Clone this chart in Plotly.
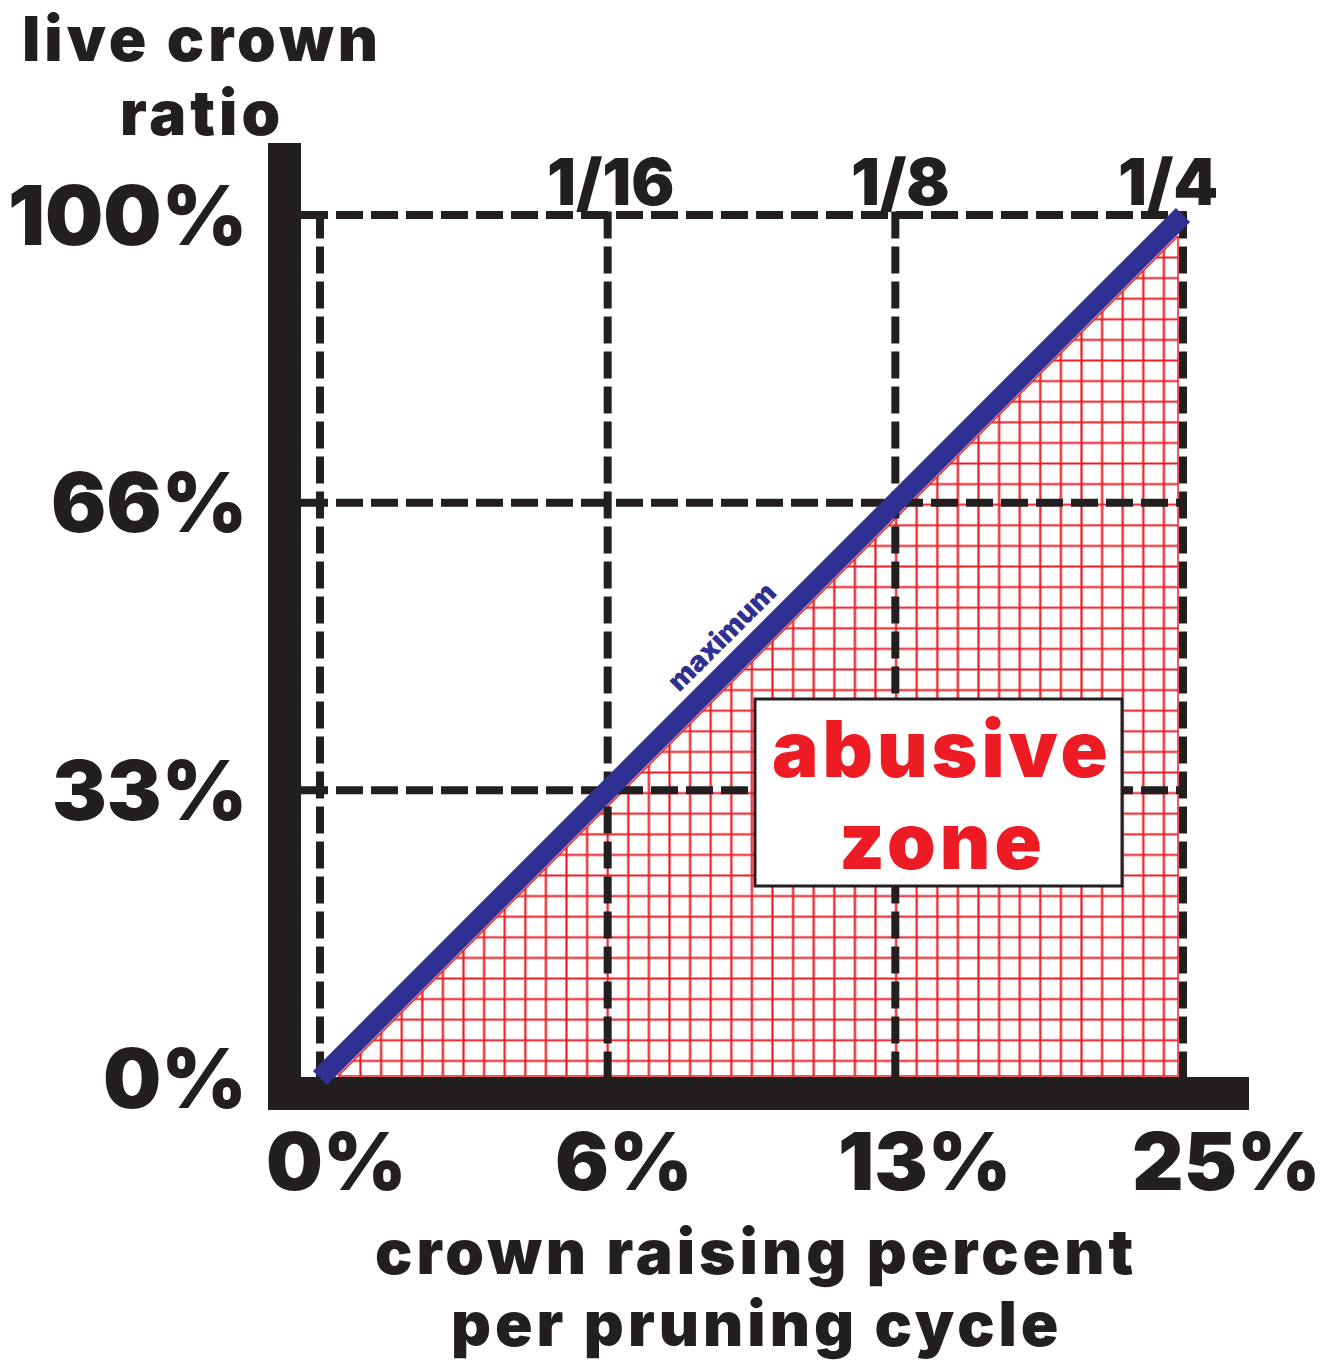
import plotly.graph_objects as go

# ---------------- data ----------------
x_tick_labels = ["0%", "6%", "13%", "25%"]        # crown raising percent per pruning cycle
x_fraction_labels = ["", "1/16", "1/8", "1/4"]     # same steps as fractions
y_tick_labels = ["0%", "33%", "66%", "100%"]       # live crown ratio
tick_index = [0, 1, 2, 3]                          # evenly spaced steps on both axes
max_line_x = [0, 3]                                # "maximum" line: 0%/0%  ->  25%/100%
max_line_y = [0, 3]
y_axis_title = ["live crown", "ratio"]
x_axis_title = ["crown raising percent", "per pruning cycle"]
zone_label = ["abusive", "zone"]
line_label = "maximum"

# ---------------- geometry / style ----------------
W, H = 1335, 1360
X0_PX, Y0_PX = 320, 1078          # pixel of step (0, 0)
UNIT = 863 / 3                    # pixels per step


def dx(px):
    return (px - X0_PX) / UNIT


def dy(py):
    return (Y0_PX - py) / UNIT


BLACK = "#231F20"
RED = "#ED1C24"
BLUE = "#2E3192"
FONT = "Inter"

fig = go.Figure()

# abusive zone (below the maximum line), hatched red grid
last = max_line_x[-1]
gap = 16 / UNIT
bot = 2 / UNIT
right = last - 5 / UNIT
zone_x = [bot + gap, right, right, bot + gap]
zone_y = [bot, bot, right - gap, bot]
fig.add_trace(go.Scatter(
    x=zone_x, y=zone_y, mode="lines", fill="toself",
    line=dict(color=RED, width=1.5), fillcolor="white",
    fillpattern=dict(shape="+", fgcolor=RED, fgopacity=1, bgcolor="white",
                     size=20.6, solidity=0.2, fillmode="replace"),
    hoverinfo="skip", showlegend=False))

# dashed guide lines
dash = "27px,8px"
top = tick_index[-1] + 3.5 / UNIT
for t in tick_index:
    fig.add_trace(go.Scatter(x=[t, t], y=[top, 0], mode="lines",
                             line=dict(color=BLACK, width=8, dash=dash),
                             hoverinfo="skip", showlegend=False))
for t in tick_index[1:]:
    fig.add_trace(go.Scatter(x=[dx(301), top], y=[t, t], mode="lines",
                             line=dict(color=BLACK, width=8, dash=dash),
                             hoverinfo="skip", showlegend=False))

# maximum line
fig.add_trace(go.Scatter(x=max_line_x, y=max_line_y, mode="lines",
                         line=dict(color=BLUE, width=20),
                         hoverinfo="skip", showlegend=False))

shapes = [
    dict(type="rect", xref="x", yref="y", x0=dx(268), x1=dx(301), y0=dy(1110), y1=dy(143),
         fillcolor=BLACK, line=dict(width=0), layer="below"),
    dict(type="rect", xref="x", yref="y", x0=dx(268), x1=dx(1249), y0=dy(1110), y1=dy(1077),
         fillcolor=BLACK, line=dict(width=0), layer="below"),
    dict(type="rect", xref="x", yref="y", x0=dx(755), x1=dx(1122), y0=dy(886), y1=dy(699),
         fillcolor="white", line=dict(color=BLACK, width=3), layer="above"),
]

ann = []


def spaced(text, px):
    return f'<span style="letter-spacing:{px}px">{text}</span>'


def txt(text, xpx, ypx, size, color=BLACK, angle=0, spacing=0, weight=900):
    ann.append(dict(text=spaced(text, spacing) if spacing else text,
                    x=dx(xpx), y=dy(ypx), xref="x", yref="y",
                    xanchor="center", yanchor="middle", showarrow=False, textangle=angle,
                    font=dict(family=FONT, size=size, color=color, weight=weight)))


# y tick labels
for t, lab in zip(tick_index, y_tick_labels):
    ann.append(dict(text=lab, x=dx(249), y=t, xref="x", yref="y", xanchor="right",
                    yanchor="middle", showarrow=False,
                    font=dict(family=FONT, size=82, color=BLACK, weight=900)))

# x tick labels (centred slightly right of each guide line)
x_label_shift = [16, 16, 29, 43]
for t, lab, sh in zip(tick_index, x_tick_labels, x_label_shift):
    ann.append(dict(text=lab, x=t, y=dy(1160), xref="x", yref="y", xshift=sh,
                    xanchor="center", yanchor="middle", showarrow=False,
                    font=dict(family=FONT, size=80, color=BLACK, weight=900)))

# fraction labels on top
frac_shift = [0, 3, 5, -15]
for t, lab, sh in zip(tick_index, x_fraction_labels, frac_shift):
    if lab:
        ann.append(dict(text=lab, x=t, y=dy(181), xref="x", yref="y", xshift=sh,
                        xanchor="center", yanchor="middle", showarrow=False,
                        font=dict(family=FONT, size=64, color=BLACK, weight=900)))

# axis titles
txt(y_axis_title[0], 202, 38, 62, spacing=4)
txt(y_axis_title[1], 202, 112, 62, spacing=4)
txt(x_axis_title[0], 756, 1251, 62, spacing=4)
txt(x_axis_title[1], 756, 1323, 62, spacing=4)

# labels inside plot
txt(line_label, 721, 637, 28, color=BLUE, angle=-45)
txt(zone_label[0], 942, 748, 78, color=RED, spacing=4)
txt(zone_label[1], 942, 840, 78, color=RED, spacing=4)

fig.update_layout(
    width=W, height=H,
    margin=dict(l=0, r=0, t=0, b=0),
    paper_bgcolor="white", plot_bgcolor="white",
    xaxis=dict(range=[dx(0), dx(W)], visible=False, fixedrange=True),
    yaxis=dict(range=[dy(H), dy(0)], visible=False, fixedrange=True),
    shapes=shapes, annotations=ann, showlegend=False,
)

fig.write_html("out.html", config={"displayModeBar": False},
               post_script="document.body.style.margin='0';document.body.style.overflow='hidden';")
